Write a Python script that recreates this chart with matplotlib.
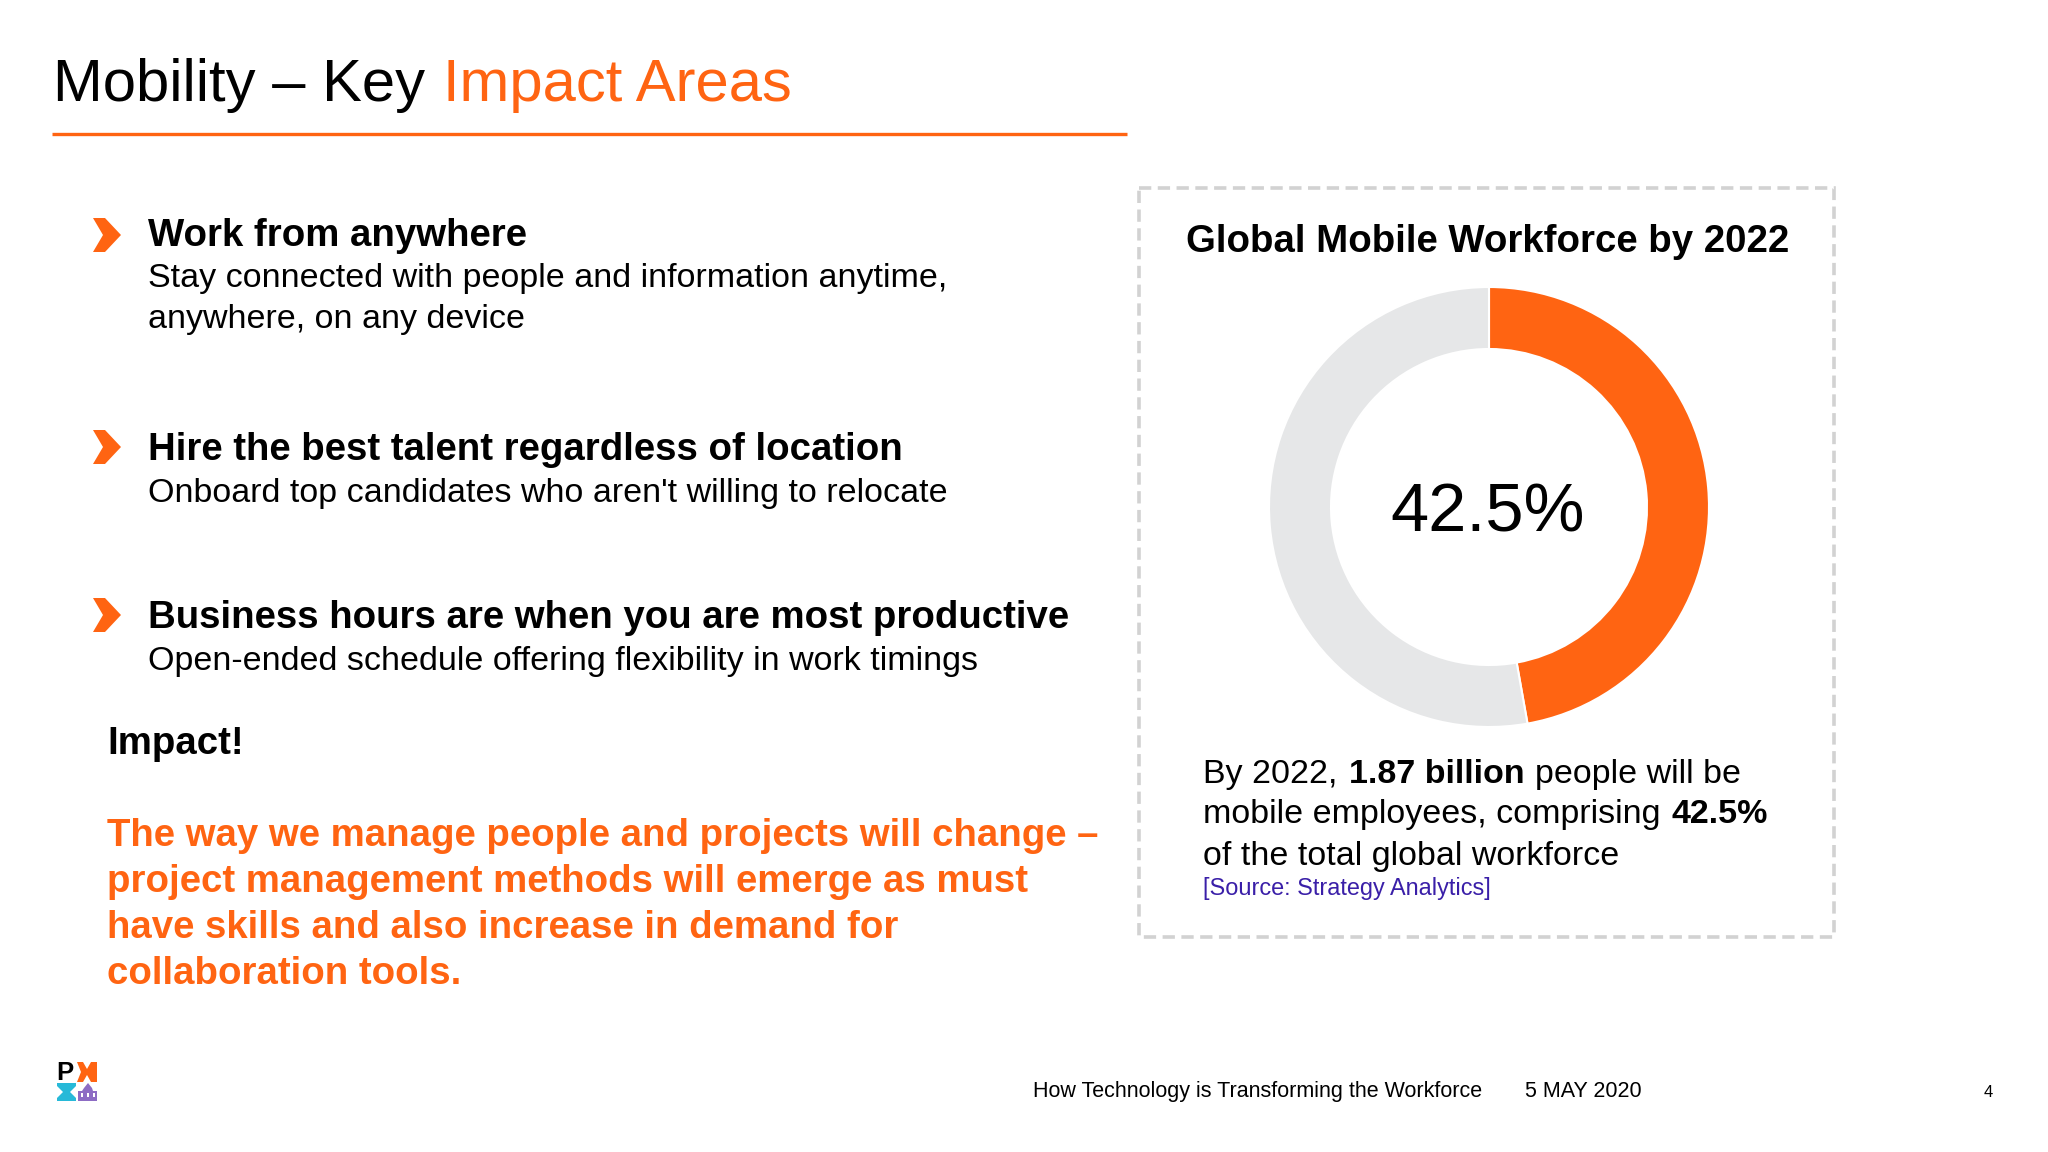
import matplotlib
matplotlib.use("Agg")
import matplotlib.pyplot as plt
from matplotlib.patches import Polygon, Rectangle

plt.rcParams['font.family'] = ['Liberation Sans', 'DejaVu Sans']

ORANGE = '#ff6412'
GREY = '#e6e7e8'

# data
shares = [47.2, 52.8]  # the ring as drawn on the slide
center_label = '42.5%'
title_black = 'Mobility – Key'
title_orange = 'Impact Areas'
headings = ['Work from anywhere', 'Hire the best talent regardless of location',
            'Business hours are when you are most productive']
bodies = ['Stay connected with people and information anytime,', 'anywhere, on any device',
          "Onboard top candidates who aren't willing to relocate",
          'Open-ended schedule offering flexibility in work timings']
impact_lines = ['The way we manage people and projects will change –',
                'project management methods will emerge as must',
                'have skills and also increase in demand for',
                'collaboration tools.']

fig = plt.figure(figsize=(20.48, 11.52), dpi=100, facecolor='white')
ax = fig.add_axes([0, 0, 1, 1])
ax.set_xlim(0, 2048)
ax.set_ylim(1152, 0)
ax.axis('off')


def put(x, y, s, size, color='black', bold=False, ha='left'):
    return ax.text(x, y, s, fontsize=size, color=color, ha=ha, va='baseline',
                   fontweight='bold' if bold else 'normal')


def chevron(y):
    pts = [(93, y - 17), (105, y - 17), (121, y), (105, y + 17), (93, y + 17), (103, y)]
    ax.add_patch(Polygon(pts, closed=True, fc=ORANGE, ec='none'))


# title
put(53, 101, title_black, 43)
put(443, 101, title_orange, 43, color=ORANGE)
ax.plot([52, 1127], [134, 134], color=ORANGE, lw=2.4, solid_capstyle='butt')

# left column
for y in [235, 447, 615]:
    chevron(y)
for y, s in zip([246, 460, 628], headings):
    put(148, y, s, 27.6, bold=True)
for y, s in zip([287, 328, 502, 670], bodies):
    put(148, y, s, 24.5)
put(107, 754, 'Impact!', 27.6, bold=True)
for y, s in zip([846, 892, 938, 984], impact_lines):
    put(107, y, s, 27.6, color=ORANGE, bold=True)

# dashed box
ax.add_patch(Rectangle((1139, 188), 695, 749, fc='none', ec='#d2d2d2', lw=2.6,
                       ls=(0, (3.4, 1.8))))
put(1488, 252, 'Global Mobile Workforce by 2022', 27.6, bold=True, ha='center')

# ring
ring = fig.add_axes([(1489 - 220) / 2048, 1 - (507 + 220) / 1152, 440 / 2048, 440 / 1152])
ring.pie(shares, colors=[ORANGE, GREY], startangle=90, counterclock=False, radius=1,
         wedgeprops=dict(width=62 / 220, edgecolor='white', linewidth=1.5))
ring.set_xlim(-1, 1)
ring.set_ylim(-1, 1)
put(1488, 531, center_label, 49.3, ha='center')

# caption under the ring
put(1203, 783, 'By 2022,', 24.5)
put(1349, 783, '1.87 billion', 24.5, bold=True)
put(1535, 783, 'people will be', 24.5)
put(1203, 823, 'mobile employees, comprising', 24.5)
put(1672, 823, '42.5%', 24.5, bold=True)
put(1203, 865, 'of the total global workforce', 24.5)
put(1203, 895, '[Source: Strategy Analytics]', 16.9, color='#3a1fa8')

# footer
put(1033, 1097, 'How Technology is Transforming the Workforce', 15.5)
put(1525, 1097, '5 MAY 2020', 15.5)
put(1984, 1097, '4', 12)

# logo
ax.text(56, 1080, 'P', fontsize=18.5, fontweight='bold', color='black', va='baseline')
ax.add_patch(Polygon([(77, 1062), (83, 1062), (87, 1069), (91, 1062), (97, 1062), (97, 1082),
                      (91, 1082), (87, 1075), (83, 1082), (77, 1082), (81, 1072)],
                     closed=True, fc=ORANGE, ec='none'))
ax.add_patch(Polygon([(57, 1083), (76, 1083), (76, 1086), (70, 1092), (76, 1098), (76, 1101),
                      (57, 1101), (57, 1098), (63, 1092), (57, 1086)],
                     closed=True, fc='#27b9d8', ec='none'))
ax.add_patch(Polygon([(78, 1101), (78, 1091), (82, 1091), (84, 1088), (88, 1083), (92, 1088),
                      (93, 1091), (97, 1091), (97, 1101)],
                     closed=True, fc='#8d6cc4', ec='none'))
for wx in [81, 87, 93]:
    ax.add_patch(Rectangle((wx, 1093), 2, 4, fc='white', ec='none'))

fig.savefig('out.png', dpi=100)
